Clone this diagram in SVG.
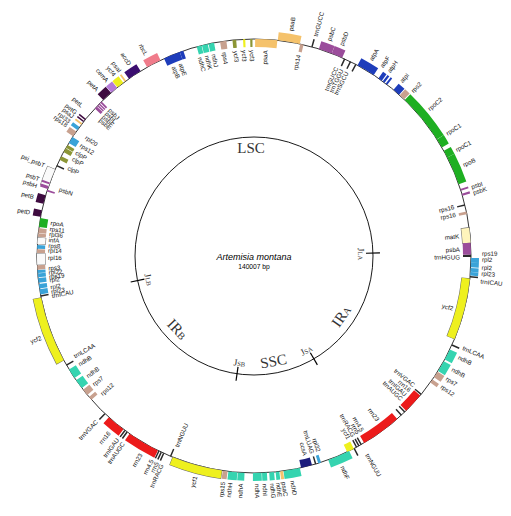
<svg xmlns="http://www.w3.org/2000/svg" width="511" height="516" viewBox="0 0 511 516">
<style>
.b{fill:none;stroke-width:8}
text{font-family:"Liberation Sans",Arial,sans-serif;font-size:6.2px;fill:#111}
.s{text-anchor:start}.e{text-anchor:end}
.psi{stroke:#F5C26B}.psb{stroke:#9B4D9B}.pet{stroke:#3E0B40}.atp{stroke:#1E3DBB}.ndh{stroke:#35D4B0}
.rbc{stroke:#F07C8B}.rpo{stroke:#1FAF22}.rps{stroke:#C8A18F}.rpl{stroke:#3AA3D8}.clp{stroke:#8C9636}
.ycf{stroke:#EEF01E}.mat{stroke:#FFF5BC}.acc{stroke:#3B0E70}.cem{stroke:#B57AD8}.rrn{stroke:#EC1B1B}
.trn{stroke:#2A2A2A}.ccs{stroke:#1C1C7C}.wht{stroke:#FAFAFA}.ul{stroke:#666;stroke-width:9;fill:none}
.ring{fill:none;stroke:#000}
text.reg{font-family:"Liberation Serif","Times New Roman",serif;fill:#333;text-anchor:middle;font-size:15px}
text.jn{font-size:9.5px}
tspan.sub{font-size:10px}
tspan.jsub{font-size:6.5px}
text.sp{font-size:9px;font-style:italic;text-anchor:middle;fill:#000}
text.bp{font-size:6.7px;text-anchor:middle;fill:#000}
</style>
<rect width="511" height="516" fill="#fff"/>
<g transform="translate(254 256)">
<circle class="ring" r="217" stroke-width="0.8"/>
<circle class="ring" r="119" stroke-width="0.9"/>
</g>
<g id="connectors" transform="translate(254 256)" stroke="#000" stroke-width="1.2">
<line x1="0" y1="-112" x2="0" y2="-126" transform="rotate(88.6)"/>
<line x1="0" y1="-112" x2="0" y2="-126" transform="rotate(149.8)"/>
<line x1="0" y1="-112" x2="0" y2="-126" transform="rotate(188.2)"/>
<line x1="0" y1="-112" x2="0" y2="-126" transform="rotate(258.1)"/>
</g>
<g id="genes" transform="translate(254 256)">
<g id="g-psaA"><circle class="b psi" r="213" pathLength="360" stroke-dasharray="5.9 360" transform="rotate(-89.7)"/><text class="e" x="206" y="2.2" transform="rotate(-86.8)">psaA</text></g>
<g id="g-psaB"><circle class="b psi" r="221" pathLength="360" stroke-dasharray="5.9 360" transform="rotate(-83.7)"/><text class="s" x="228" y="2.2" transform="rotate(-80.7)">psaB</text></g>
<g id="g-rps14"><circle class="b rps" r="213" pathLength="360" stroke-dasharray="0.9 360" transform="rotate(-77.7)"/><text class="e" x="206" y="2.2" transform="rotate(-77.5)">rps14</text></g>
<g id="g-trnGUCC"><circle class="b trn" r="221" pathLength="360" stroke-dasharray="0.4 360" transform="rotate(-74.7)"/><text class="s" x="228" y="2.2" transform="rotate(-74.4)">trnGUCC</text></g>
<g id="g-psbC"><circle class="b psb" r="221" pathLength="360" stroke-dasharray="3.6 360" transform="rotate(-72.6)"/><text class="s" x="228" y="2.2" transform="rotate(-70.8)">psbC</text></g>
<g id="g-psbD"><circle class="b psb" r="221" pathLength="360" stroke-dasharray="3 360" transform="rotate(-69)"/><text class="s" x="228" y="2.2" transform="rotate(-67.5)">psbD</text></g>
<g id="g-trn1"><circle class="b trn" r="213" pathLength="360" stroke-dasharray="0.4 360" transform="rotate(-65.5)"/><text class="e" x="206" y="2.2" transform="rotate(-66.4)">trnGUCC</text></g>
<g id="g-trn2"><circle class="b trn" r="213" pathLength="360" stroke-dasharray="0.4 360" transform="rotate(-63.8)"/><text class="e" x="206" y="2.2" transform="rotate(-64.8)">trnTGGU</text></g>
<g id="g-trn3"><circle class="b trn" r="213" pathLength="360" stroke-dasharray="0.4 360" transform="rotate(-62.2)"/><text class="e" x="206" y="2.2" transform="rotate(-63.2)">trnSGCU</text></g>
<g id="g-atpA"><circle class="b atp" r="221" pathLength="360" stroke-dasharray="5 360" transform="rotate(-61.5)"/><text class="s" x="228" y="2.2" transform="rotate(-59.2)">atpA</text></g>
<g id="g-atpF"><circle class="b atp" r="221" pathLength="360" stroke-dasharray="1.1 360" transform="rotate(-55)"/><circle class="b atp" r="221" pathLength="360" stroke-dasharray="0.6 360" transform="rotate(-53.6)"/><text class="s" x="228" y="2.2" transform="rotate(-56)">atpF</text></g>
<g id="g-atpH"><circle class="b atp" r="221" pathLength="360" stroke-dasharray="0.5 360" transform="rotate(-52.6)"/><text class="s" x="228" y="2.2" transform="rotate(-53.8)">atpH</text></g>
<g id="g-atpI"><circle class="b atp" r="221" pathLength="360" stroke-dasharray="2 360" transform="rotate(-50)"/><text class="s" x="228" y="2.2" transform="rotate(-49.8)">atpI</text></g>
<g id="g-rps2"><circle class="b rps" r="221" pathLength="360" stroke-dasharray="1.6 360" transform="rotate(-47.8)"/><text class="s" x="228" y="2.2" transform="rotate(-46.1)">rps2</text></g>
<g id="g-rpoC2"><circle class="b rpo" r="221" pathLength="360" stroke-dasharray="13.5 360" transform="rotate(-46)"/><text class="s" x="228" y="2.2" transform="rotate(-40)">rpoC2</text></g>
<g id="g-rpoC1a"><circle class="b rpo" r="221" pathLength="360" stroke-dasharray="2.5 360" transform="rotate(-32.5)"/><text class="s" x="228" y="2.2" transform="rotate(-32.4)">rpoC1</text></g>
<g id="g-rpoC1b"><circle class="b rpo" r="221" pathLength="360" stroke-dasharray="2 360" transform="rotate(-29)"/><text class="s" x="228" y="2.2" transform="rotate(-27.7)">rpoC1</text></g>
<g id="g-rpoB"><circle class="b rpo" r="221" pathLength="360" stroke-dasharray="7.7 360" transform="rotate(-27)"/><text class="s" x="228" y="2.2" transform="rotate(-23.5)">rpoB</text></g>
<g id="g-psbI"><circle class="b psb" r="221" pathLength="360" stroke-dasharray="0.5 360" transform="rotate(-18)"/><text class="s" x="228" y="2.2" transform="rotate(-17.6)">psbI</text></g>
<g id="g-psbK"><circle class="b psb" r="221" pathLength="360" stroke-dasharray="0.6 360" transform="rotate(-16.7)"/><text class="s" x="228" y="2.2" transform="rotate(-16.1)">psbK</text></g>
<g id="g-rps16a"><circle class="b trn" r="213" pathLength="360" stroke-dasharray="0.4 360" transform="rotate(-13.8)"/><text class="e" x="206" y="2.2" transform="rotate(-13.8)">rps16</text></g>
<g id="g-rps16b"><circle class="b rps" r="213" pathLength="360" stroke-dasharray="0.7 360" transform="rotate(-11.8)"/><text class="e" x="206" y="2.2" transform="rotate(-11.6)">rps16</text></g>
<g id="g-matK"><circle class="ul" r="213" pathLength="360" stroke-dasharray="4.3 360" transform="rotate(-7.65)"/><circle class="b mat" r="213" pathLength="360" stroke-dasharray="4 360" stroke-width="7.4" transform="rotate(-7.5)"/><text class="e" x="206" y="2.2" transform="rotate(-5.5)">matK</text></g>
<g id="g-psbA"><circle class="b psb" r="213" pathLength="360" stroke-dasharray="3.2 360" transform="rotate(-3.5)"/><text class="e" x="206" y="2.2" transform="rotate(-1.8)">psbA</text></g>
<g id="g-trnHGUG"><circle class="b trn" r="213" pathLength="360" stroke-dasharray="0.6 360" transform="rotate(-0.3)"/><text class="e" x="206" y="2.2" transform="rotate(0.4)">trnHGUG</text></g>
<g id="g-rps19a"><circle class="b rpl" r="221" pathLength="360" stroke-dasharray="1.3 360" transform="rotate(0.5)"/><text class="s" x="228" y="2.2" transform="rotate(-0.6)">rps19</text></g>
<g id="g-rpl2a"><circle class="b rpl" r="221" pathLength="360" stroke-dasharray="1.2 360" transform="rotate(1.8)"/><text class="s" x="228" y="2.2" transform="rotate(0.9)">rpl2</text></g>
<g id="g-rpl2b"><circle class="b rpl" r="221" pathLength="360" stroke-dasharray="1 360" transform="rotate(3.2)"/><text class="s" x="228" y="2.2" transform="rotate(2.9)">rpl2</text></g>
<g id="g-rpl23a"><circle class="b rpl" r="221" pathLength="360" stroke-dasharray="1 360" transform="rotate(4.2)"/><text class="s" x="228" y="2.2" transform="rotate(4.4)">rpl23</text></g>
<g id="g-trnICAUa"><circle class="b trn" r="221" pathLength="360" stroke-dasharray="0.4 360" transform="rotate(5.3)"/><text class="s" x="228" y="2.2" transform="rotate(6.4)">trnICAU</text></g>
<g id="g-ycf2a"><circle class="ul" r="213" pathLength="360" stroke-dasharray="16.7 360" transform="rotate(5.9)"/><circle class="b ycf" r="213" pathLength="360" stroke-dasharray="16.5 360" stroke-width="7.4" transform="rotate(6)"/><text class="e" x="206" y="2.2" transform="rotate(14.8)">ycf2</text></g>
<g id="g-trnLCAAa"><circle class="b trn" r="221" pathLength="360" stroke-dasharray="0.4 360" transform="rotate(24)"/><text class="s" x="228" y="2.2" transform="rotate(23.7)">trnLCAA</text></g>
<g id="g-ndhBa1"><circle class="b ndh" r="221" pathLength="360" stroke-dasharray="3 360" transform="rotate(25.5)"/><text class="s" x="228" y="2.2" transform="rotate(26.3)">ndhB</text></g>
<g id="g-ndhBa2"><circle class="b ndh" r="221" pathLength="360" stroke-dasharray="3 360" transform="rotate(29)"/><text class="s" x="228" y="2.2" transform="rotate(29.7)">ndhB</text></g>
<g id="g-rps7a"><circle class="b rps" r="221" pathLength="360" stroke-dasharray="1.8 360" transform="rotate(32.2)"/><text class="s" x="228" y="2.2" transform="rotate(32.4)">rps7</text></g>
<g id="g-rps12a"><circle class="b rps" r="221" pathLength="360" stroke-dasharray="1 360" transform="rotate(34.7)"/><text class="s" x="228" y="2.2" transform="rotate(34.8)">rps12</text></g>
<g id="g-trnVGACa"><circle class="b trn" r="213" pathLength="360" stroke-dasharray="0.4 360" transform="rotate(39.4)"/><text class="e" x="206" y="2.2" transform="rotate(39)">trnVGAC</text></g>
<g id="g-rrn16a"><circle class="b rrn" r="213" pathLength="360" stroke-dasharray="5.5 360" transform="rotate(40)"/><text class="e" x="206" y="2.2" transform="rotate(40.8)">rrn16</text></g>
<g id="g-trnIGAUa"><circle class="b trn" r="213" pathLength="360" stroke-dasharray="0.4 360" transform="rotate(45.8)"/><text class="e" x="206" y="2.2" transform="rotate(42.5)">trnIGAU</text></g>
<g id="g-trnAUGCa"><circle class="b trn" r="213" pathLength="360" stroke-dasharray="0.4 360" transform="rotate(47)"/><text class="e" x="206" y="2.2" transform="rotate(44.2)">trnAUGC</text></g>
<g id="g-rrn23a"><circle class="b rrn" r="213" pathLength="360" stroke-dasharray="10.8 360" transform="rotate(48.7)"/><text class="e" x="206" y="2.2" transform="rotate(53)">rrn23</text></g>
<g id="g-rrn45a"><circle class="b trn" r="213" pathLength="360" stroke-dasharray="0.4 360" transform="rotate(60.2)"/><text class="e" x="206" y="2.2" transform="rotate(58.2)">rrn4.5</text></g>
<g id="g-rrn5a"><circle class="b trn" r="213" pathLength="360" stroke-dasharray="0.4 360" transform="rotate(60.9)"/><text class="e" x="206" y="2.2" transform="rotate(59.6)">rrn5</text></g>
<g id="g-trnRACGa"><circle class="b trn" r="213" pathLength="360" stroke-dasharray="0.4 360" transform="rotate(61.6)"/><text class="e" x="206" y="2.2" transform="rotate(61.1)">trnRACG</text></g>
<g id="g-trnNGUUa"><circle class="b trn" r="221" pathLength="360" stroke-dasharray="0.4 360" transform="rotate(62.3)"/><text class="s" x="228" y="2.2" transform="rotate(60.3)">trnNGUU</text></g>
<g id="g-ycf1a"><circle class="b ycf" r="213" pathLength="360" stroke-dasharray="2 360" transform="rotate(62.6)"/><text class="e" x="206" y="2.2" transform="rotate(62.6)">ycf1</text></g>
<g id="g-ndhF"><circle class="b ndh" r="221" pathLength="360" stroke-dasharray="6 360" transform="rotate(64)"/><text class="s" x="228" y="2.2" transform="rotate(67.2)">ndhF</text></g>
<g id="g-rpl32"><circle class="b rpl" r="213" pathLength="360" stroke-dasharray="0.8 360" transform="rotate(72)"/><text class="e" x="206" y="2.2" transform="rotate(71.7)">rpl32</text></g>
<g id="g-trnLUAG"><circle class="b trn" r="213" pathLength="360" stroke-dasharray="0.4 360" transform="rotate(73.3)"/><text class="e" x="206" y="2.2" transform="rotate(73.6)">trnLUAG</text></g>
<g id="g-ccsA"><circle class="b ccs" r="213" pathLength="360" stroke-dasharray="3 360" transform="rotate(74.5)"/><text class="e" x="206" y="2.2" transform="rotate(75.6)">ccsA</text></g>
<g id="g-ndhD"><circle class="b ndh" r="221" pathLength="360" stroke-dasharray="4.4 360" transform="rotate(77.8)"/><text class="s" x="228" y="2.2" transform="rotate(80.3)">ndhD</text></g>
<g id="g-psaC"><circle class="b psi" r="221" pathLength="360" stroke-dasharray="0.8 360" transform="rotate(82.3)"/><text class="s" x="228" y="2.2" transform="rotate(82.5)">psaC</text></g>
<g id="g-ndhE"><circle class="b ndh" r="221" pathLength="360" stroke-dasharray="1 360" transform="rotate(83.3)"/><text class="s" x="228" y="2.2" transform="rotate(83.9)">ndhE</text></g>
<g id="g-ndhG"><circle class="b ndh" r="221" pathLength="360" stroke-dasharray="1.3 360" transform="rotate(84.7)"/><text class="s" x="228" y="2.2" transform="rotate(85.4)">ndhG</text></g>
<g id="g-ndhI"><circle class="b ndh" r="221" pathLength="360" stroke-dasharray="1.3 360" transform="rotate(86.6)"/><text class="s" x="228" y="2.2" transform="rotate(87.3)">ndhI</text></g>
<g id="g-ndhA1"><circle class="b ndh" r="221" pathLength="360" stroke-dasharray="2.3 360" transform="rotate(88)"/><text class="s" x="228" y="2.2" transform="rotate(89.2)">ndhA</text></g>
<g id="g-ndhA2"><circle class="b ndh" r="221" pathLength="360" stroke-dasharray="1.8 360" transform="rotate(92.5)"/><text class="e" x="-228" y="2.2" transform="rotate(-86.7)">ndhA</text></g>
<g id="g-ndhH"><circle class="b ndh" r="221" pathLength="360" stroke-dasharray="2.4 360" transform="rotate(94.4)"/><text class="e" x="-228" y="2.2" transform="rotate(-84)">ndhH</text></g>
<g id="g-rps15"><circle class="b rps" r="221" pathLength="360" stroke-dasharray="1.3 360" transform="rotate(97)"/><text class="e" x="-228" y="2.2" transform="rotate(-82.2)">rps15</text></g>
<g id="g-ycf1b"><circle class="ul" r="221" pathLength="360" stroke-dasharray="13.7 360" transform="rotate(98.4)"/><circle class="b ycf" r="221" pathLength="360" stroke-dasharray="13.5 360" stroke-width="7.4" transform="rotate(98.5)"/><text class="e" x="-228" y="2.2" transform="rotate(-75.1)">ycf1</text></g>
<g id="g-trnNGUUb"><circle class="b trn" r="213" pathLength="360" stroke-dasharray="0.4 360" transform="rotate(112.4)"/><text class="s" x="-206" y="2.2" transform="rotate(-68)">trnNGUU</text></g>
<g id="g-trnRACGb"><circle class="b trn" r="221" pathLength="360" stroke-dasharray="0.4 360" transform="rotate(114.4)"/><text class="e" x="-228" y="2.2" transform="rotate(-66.1)">trnRACG</text></g>
<g id="g-rrn5b"><circle class="b trn" r="221" pathLength="360" stroke-dasharray="0.4 360" transform="rotate(115.1)"/><text class="e" x="-228" y="2.2" transform="rotate(-64.8)">rrn5</text></g>
<g id="g-rrn45b"><circle class="b trn" r="221" pathLength="360" stroke-dasharray="0.4 360" transform="rotate(115.8)"/><text class="e" x="-228" y="2.2" transform="rotate(-63.4)">rrn4.5</text></g>
<g id="g-rrn23b"><circle class="b rrn" r="221" pathLength="360" stroke-dasharray="8.7 360" transform="rotate(116.3)"/><text class="e" x="-228" y="2.2" transform="rotate(-60.2)">rrn23</text></g>
<g id="g-trnAUGCb"><circle class="b trn" r="221" pathLength="360" stroke-dasharray="0.4 360" transform="rotate(125.6)"/><text class="e" x="-228" y="2.2" transform="rotate(-55)">trnAUGC</text></g>
<g id="g-trnIGAUb"><circle class="b trn" r="221" pathLength="360" stroke-dasharray="0.4 360" transform="rotate(126.3)"/><text class="e" x="-228" y="2.2" transform="rotate(-53.3)">trnIGAU</text></g>
<g id="g-rrn16b"><circle class="b rrn" r="221" pathLength="360" stroke-dasharray="5 360" transform="rotate(127)"/><text class="e" x="-228" y="2.2" transform="rotate(-50.6)">rrn16</text></g>
<g id="g-trnVGACb"><circle class="b trn" r="221" pathLength="360" stroke-dasharray="0.4 360" transform="rotate(133.2)"/><text class="e" x="-228" y="2.2" transform="rotate(-46.4)">trnVGAC</text></g>
<g id="g-rps12b"><circle class="b rps" r="213" pathLength="360" stroke-dasharray="1 360" transform="rotate(138.5)"/><text class="s" x="-206" y="2.2" transform="rotate(-42.2)">rps12</text></g>
<g id="g-rps7b"><circle class="b rps" r="213" pathLength="360" stroke-dasharray="1.8 360" transform="rotate(140.2)"/><text class="s" x="-206" y="2.2" transform="rotate(-38.7)">rps7</text></g>
<g id="g-ndhBb1"><circle class="b ndh" r="213" pathLength="360" stroke-dasharray="2.6 360" transform="rotate(142.5)"/><text class="s" x="-206" y="2.2" transform="rotate(-35.8)">ndhB</text></g>
<g id="g-ndhBb2"><circle class="b ndh" r="213" pathLength="360" stroke-dasharray="2.7 360" transform="rotate(145.8)"/><text class="s" x="-206" y="2.2" transform="rotate(-31.8)">ndhB</text></g>
<g id="g-trnLCAAb"><circle class="b trn" r="213" pathLength="360" stroke-dasharray="0.4 360" transform="rotate(149.6)"/><text class="s" x="-206" y="2.2" transform="rotate(-29.2)">trnLCAA</text></g>
<g id="g-ycf2b"><circle class="ul" r="221" pathLength="360" stroke-dasharray="17.8 360" transform="rotate(151.2)"/><circle class="b ycf" r="221" pathLength="360" stroke-dasharray="17.6 360" stroke-width="7.4" transform="rotate(151.3)"/><text class="e" x="-228" y="2.2" transform="rotate(-21)">ycf2</text></g>
<g id="g-trnICAUb"><circle class="b trn" r="213" pathLength="360" stroke-dasharray="0.4 360" transform="rotate(169.2)"/><text class="s" x="-206" y="2.2" transform="rotate(-11.2)">trnICAU</text></g>
<g id="g-rpl23b"><circle class="b rpl" r="213" pathLength="360" stroke-dasharray="1.4 360" transform="rotate(169.8)"/><text class="s" x="-206" y="2.2" transform="rotate(-10)">rpl23</text></g>
<g id="g-rpl2c"><circle class="b rpl" r="213" pathLength="360" stroke-dasharray="1.2 360" transform="rotate(171.4)"/><text class="s" x="-206" y="2.2" transform="rotate(-8.7)">rpl2</text></g>
<g id="g-rpl2d"><circle class="b rpl" r="213" pathLength="360" stroke-dasharray="1.3 360" transform="rotate(172.9)"/><text class="s" x="-206" y="2.2" transform="rotate(-6.7)">rpl2</text></g>
<g id="g-rps19b"><circle class="b rpl" r="213" pathLength="360" stroke-dasharray="1 360" transform="rotate(174.4)"/><text class="s" x="-206" y="2.2" transform="rotate(-5.8)">rps19</text></g>
<g id="g-rpl22"><circle class="b rpl" r="213" pathLength="360" stroke-dasharray="0.8 360" transform="rotate(175.5)"/><text class="s" x="-206" y="2.2" transform="rotate(-4.6)">rpl22</text></g>
<g id="g-rps3"><circle class="b rps" r="213" pathLength="360" stroke-dasharray="1.2 360" transform="rotate(176.4)"/><text class="s" x="-206" y="2.2" transform="rotate(-3.4)">rps3</text></g>
<g id="g-rpl16"><circle class="ul" r="213" pathLength="360" stroke-dasharray="3.2 360" transform="rotate(177.6)"/><circle class="b wht" r="213" pathLength="360" stroke-dasharray="3 360" stroke-width="7.4" transform="rotate(177.7)"/><text class="s" x="-206" y="2.2" transform="rotate(-0.5)">rpl16</text></g>
<g id="g-rpl14"><circle class="b rps" r="213" pathLength="360" stroke-dasharray="1 360" transform="rotate(180.8)"/><text class="s" x="-206" y="2.2" transform="rotate(1.5)">rpl14</text></g>
<g id="g-rps8"><circle class="b rpl" r="213" pathLength="360" stroke-dasharray="1 360" transform="rotate(181.9)"/><text class="s" x="-206" y="2.2" transform="rotate(2.9)">rps8</text></g>
<g id="g-infA"><circle class="ul" r="213" pathLength="360" stroke-dasharray="1.9 360" transform="rotate(183.1)"/><circle class="b wht" r="213" pathLength="360" stroke-dasharray="1.7 360" stroke-width="7.4" transform="rotate(183.2)"/><text class="s" x="-206" y="2.2" transform="rotate(4.5)">infA</text></g>
<g id="g-rpl36"><circle class="b rps" r="213" pathLength="360" stroke-dasharray="0.9 360" transform="rotate(185.1)"/><text class="s" x="-206" y="2.2" transform="rotate(6.1)">rpl36</text></g>
<g id="g-rps11"><circle class="b rps" r="213" pathLength="360" stroke-dasharray="1.3 360" transform="rotate(186.1)"/><text class="s" x="-206" y="2.2" transform="rotate(7.6)">rps11</text></g>
<g id="g-rpoA"><circle class="b rpo" r="213" pathLength="360" stroke-dasharray="2.4 360" transform="rotate(187.7)"/><text class="s" x="-206" y="2.2" transform="rotate(9.3)">rpoA</text></g>
<g id="g-petD"><circle class="b pet" r="221" pathLength="360" stroke-dasharray="1.8 360" transform="rotate(190.4)"/><text class="e" x="-228" y="2.2" transform="rotate(11)">petD</text></g>
<g id="g-petB"><circle class="b pet" r="221" pathLength="360" stroke-dasharray="2.4 360" transform="rotate(193.9)"/><text class="e" x="-228" y="2.2" transform="rotate(15)">petB</text></g>
<g id="g-psbN"><circle class="b psb" r="213" pathLength="360" stroke-dasharray="0.5 360" transform="rotate(197.3)"/><text class="s" x="-206" y="2.2" transform="rotate(18.9)">psbN</text></g>
<g id="g-psiPsbT"><circle class="ul" r="221" pathLength="360" stroke-dasharray="5.2 360" transform="rotate(198.4)"/><circle class="b wht" r="221" pathLength="360" stroke-dasharray="5 360" stroke-width="7.4" transform="rotate(198.5)"/><text class="e" x="-228" y="2.2" transform="rotate(23.3)">psi_psbT</text></g>
<g id="g-psbH"><circle class="b psb" r="221" pathLength="360" stroke-dasharray="0.8 360" transform="rotate(198)"/><text class="e" x="-228" y="2.2" transform="rotate(17.9)">psbH</text></g>
<g id="g-psbT"><circle class="b psb" r="221" pathLength="360" stroke-dasharray="0.5 360" transform="rotate(199.3)"/><text class="e" x="-228" y="2.2" transform="rotate(19.7)">psbT</text></g>
<g id="g-clpP1"><circle class="b trn" r="213" pathLength="360" stroke-dasharray="0.4 360" transform="rotate(204.4)"/><text class="s" x="-206" y="2.2" transform="rotate(25.4)">clpP</text></g>
<g id="g-clpP2"><circle class="b clp" r="213" pathLength="360" stroke-dasharray="1.1 360" transform="rotate(206.3)"/><text class="s" x="-206" y="2.2" transform="rotate(28.2)">clpP</text></g>
<g id="g-clpP3"><circle class="b clp" r="213" pathLength="360" stroke-dasharray="1.2 360" transform="rotate(208.6)"/><text class="s" x="-206" y="2.2" transform="rotate(30.2)">clpP</text></g>
<g id="g-rps12c"><circle class="b clp" r="213" pathLength="360" stroke-dasharray="0.9 360" transform="rotate(209.9)"/><text class="s" x="-206" y="2.2" transform="rotate(32.6)">rps12</text></g>
<g id="g-rpl20"><circle class="b rpl" r="213" pathLength="360" stroke-dasharray="1.9 360" transform="rotate(211.4)"/><text class="s" x="-206" y="2.2" transform="rotate(35.3)">rpl20</text></g>
<g id="g-rps18"><circle class="b rps" r="221" pathLength="360" stroke-dasharray="1.5 360" transform="rotate(213.5)"/><text class="e" x="-228" y="2.2" transform="rotate(34.9)">rps18</text></g>
<g id="g-rpl33"><circle class="b rpl" r="221" pathLength="360" stroke-dasharray="1 360" transform="rotate(215.5)"/><text class="e" x="-228" y="2.2" transform="rotate(36.1)">rpl33</text></g>
<g id="g-psaJ"><circle class="b psi" r="221" pathLength="360" stroke-dasharray="0.5 360" transform="rotate(217.2)"/><text class="e" x="-228" y="2.2" transform="rotate(37.6)">psaJ</text></g>
<g id="g-petG"><circle class="b pet" r="221" pathLength="360" stroke-dasharray="0.4 360" transform="rotate(218.1)"/><text class="e" x="-228" y="2.2" transform="rotate(38.8)">petG</text></g>
<g id="g-petL"><circle class="b pet" r="221" pathLength="360" stroke-dasharray="0.4 360" transform="rotate(218.8)"/><text class="e" x="-228" y="2.2" transform="rotate(41.1)">petL</text></g>
<g id="g-psbE"><circle class="b psb" r="213" pathLength="360" stroke-dasharray="0.8 360" transform="rotate(222.8)"/><text class="s" x="-206" y="2.2" transform="rotate(41.5)">psbE</text></g>
<g id="g-psbF"><circle class="b psb" r="213" pathLength="360" stroke-dasharray="0.4 360" transform="rotate(223.7)"/><text class="s" x="-206" y="2.2" transform="rotate(42.8)">psbF</text></g>
<g id="g-psbL"><circle class="b psb" r="213" pathLength="360" stroke-dasharray="0.4 360" transform="rotate(224.3)"/><text class="s" x="-206" y="2.2" transform="rotate(44.1)">psbL</text></g>
<g id="g-psbJ"><circle class="b psb" r="213" pathLength="360" stroke-dasharray="0.5 360" transform="rotate(224.9)"/><text class="s" x="-206" y="2.2" transform="rotate(45.4)">psbJ</text></g>
<g id="g-petA"><circle class="b pet" r="221" pathLength="360" stroke-dasharray="2.8 360" transform="rotate(226)"/><text class="e" x="-228" y="2.2" transform="rotate(46.6)">petA</text></g>
<g id="g-cemA"><circle class="b cem" r="221" pathLength="360" stroke-dasharray="2 360" transform="rotate(228.9)"/><text class="e" x="-228" y="2.2" transform="rotate(50)">cemA</text></g>
<g id="g-ycf4"><circle class="b ycf" r="221" pathLength="360" stroke-dasharray="2 360" transform="rotate(231)"/><text class="e" x="-228" y="2.2" transform="rotate(52.3)">ycf4</text></g>
<g id="g-psaI"><circle class="b psi" r="221" pathLength="360" stroke-dasharray="0.5 360" transform="rotate(233.4)"/><text class="e" x="-228" y="2.2" transform="rotate(54)">psaI</text></g>
<g id="g-accD"><circle class="b acc" r="221" pathLength="360" stroke-dasharray="3.7 360" transform="rotate(234.8)"/><text class="e" x="-228" y="2.2" transform="rotate(57)">accD</text></g>
<g id="g-rbcL"><circle class="b rbc" r="221" pathLength="360" stroke-dasharray="4 360" transform="rotate(240.5)"/><text class="e" x="-228" y="2.2" transform="rotate(61.8)">rbcL</text></g>
<g id="g-atpB"><circle class="b atp" r="213" pathLength="360" stroke-dasharray="4.5 360" transform="rotate(245.5)"/><text class="s" x="-206" y="2.2" transform="rotate(67)">atpB</text></g>
<g id="g-atpE"><circle class="b atp" r="213" pathLength="360" stroke-dasharray="1 360" transform="rotate(250)"/><text class="s" x="-206" y="2.2" transform="rotate(69.1)">atpE</text></g>
<g id="g-ndhC"><circle class="b ndh" r="213" pathLength="360" stroke-dasharray="1.3 360" transform="rotate(254.7)"/><text class="s" x="-206" y="2.2" transform="rotate(74.8)">ndhC</text></g>
<g id="g-ndhK"><circle class="b ndh" r="213" pathLength="360" stroke-dasharray="1.6 360" transform="rotate(256.1)"/><text class="s" x="-206" y="2.2" transform="rotate(76.8)">ndhK</text></g>
<g id="g-ndhJ"><circle class="b ndh" r="213" pathLength="360" stroke-dasharray="1.5 360" transform="rotate(257.9)"/><text class="s" x="-206" y="2.2" transform="rotate(78.7)">ndhJ</text></g>
<g id="g-rps4"><circle class="b rps" r="213" pathLength="360" stroke-dasharray="1.7 360" transform="rotate(261)"/><text class="s" x="-206" y="2.2" transform="rotate(81.7)">rps4</text></g>
<g id="g-ycf3a"><circle class="b clp" r="213" pathLength="360" stroke-dasharray="1 360" transform="rotate(264.3)"/><text class="s" x="-206" y="2.2" transform="rotate(84.9)">ycf3</text></g>
<g id="g-ycf3b"><circle class="b ycf" r="213" pathLength="360" stroke-dasharray="0.6 360" transform="rotate(267.1)"/><text class="s" x="-206" y="2.2" transform="rotate(87.2)">ycf3</text></g>
<g id="g-ycf3c"><circle class="b clp" r="213" pathLength="360" stroke-dasharray="0.6 360" transform="rotate(269)"/><text class="s" x="-206" y="2.2" transform="rotate(89.4)">ycf3</text></g>
</g>
<g id="regions" transform="translate(254 256)">
<text class="reg" x="-3" y="-103">LSC</text>
<text class="reg" x="0" y="112" transform="rotate(-10.5)">SSC</text>
<text class="reg" x="0" y="111" transform="rotate(-55.4)">IR<tspan class="sub">A</tspan></text>
<text class="reg" x="0" y="111" transform="rotate(46.3)">IR<tspan class="sub">B</tspan></text>
<text class="reg jn" x="0" y="111" transform="rotate(7.7)">J<tspan class="jsub">SB</tspan></text>
<text class="reg jn" x="0" y="111" transform="rotate(-29)">J<tspan class="jsub">SA</tspan></text>
<text class="reg jn" x="0" y="111" transform="rotate(77.4)">J<tspan class="jsub">LB</tspan></text>
<text class="reg jn" x="0" y="-104" transform="rotate(88.9)">J<tspan class="jsub">LA</tspan></text>
</g>
<g id="title">
<text class="sp" x="254" y="259.5">Artemisia montana</text>
<text class="bp" x="254" y="268.5">140007 bp</text>
</g>
</svg>
